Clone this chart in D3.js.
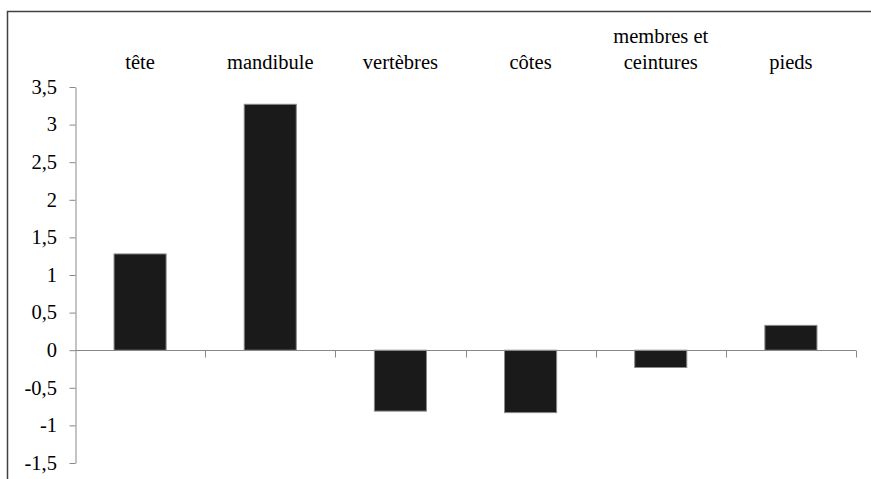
<!DOCTYPE html>
<html><head><meta charset="utf-8">
<script src="https://cdn.jsdelivr.net/npm/d3@7"></script>
<style>body{margin:0;background:#fff}svg{display:block}</style>
</head><body>
<script>
const categories = ["tête","mandibule","vertèbres","côtes","membres et\nceintures","pieds"];
const values = [1.28, 3.27, -0.81, -0.83, -0.23, 0.33];
const yTicks = [3.5,3,2.5,2,1.5,1,0.5,0,-0.5,-1,-1.5];

const W=871,H=479;
const svg=d3.select("body").append("svg").attr("width",W).attr("height",H);
const FONT='"Liberation Serif"';
const fs=20.5;

// frame
svg.append("path").attr("d","M7.5,479V11.5H871").attr("fill","none").attr("stroke","#404040").attr("stroke-width",1.5);

const x=d3.scaleBand().domain(categories).range([75,856]).paddingInner(0.6).paddingOuter(0.3);
const y=d3.scaleLinear().domain([-1.5,3.5]).range([463,87]);

// bars
svg.selectAll("rect.bar").data(values).join("rect")
  .attr("x",(d,i)=>x(categories[i]))
  .attr("width",x.bandwidth())
  .attr("y",d=>y(Math.max(0,d)))
  .attr("height",d=>Math.abs(y(d)-y(0)))
  .attr("fill","#1a1a1a").attr("stroke","#888").attr("stroke-width",1);

// y axis
const ya=svg.append("g").attr("transform","translate(75.5,0)")
  .call(d3.axisLeft(y).tickValues(yTicks).tickSize(6).tickSizeOuter(0).tickFormat(d=>String(d).replace(".",",")));
ya.select(".domain").attr("stroke","#888");
ya.selectAll(".tick line").attr("stroke","#888");
ya.selectAll(".tick text").remove();
yTicks.forEach(v=>{
  svg.append("text").attr("x",57).attr("y",y(v))
    .attr("text-anchor","end").attr("dy","0.33em")
    .style("font-family",FONT).style("font-size",fs+"px").attr("fill","#000")
    .text(String(v).replace(".",","));
});

// x axis at zero with boundary ticks
const y0=Math.round(y(0))+0.5;
svg.append("line").attr("x1",75).attr("x2",856).attr("y1",y0).attr("y2",y0).attr("stroke","#888");
const bounds=d3.range(1,categories.length+1).map(i=>75+i*(856-75)/categories.length);
svg.selectAll("line.xt").data(bounds).join("line")
  .attr("x1",d=>Math.round(d)+0.5).attr("x2",d=>Math.round(d)+0.5)
  .attr("y1",y0).attr("y2",y0+7).attr("stroke","#888");

// category labels at top
categories.forEach(c=>{
  const lines=c.split("\n");
  const cx=x(c)+x.bandwidth()/2;
  lines.forEach((t,j)=>{
    const by=69-(lines.length-1-j)*26;
    svg.append("text").attr("x",cx).attr("y",by)
      .attr("text-anchor","middle").style("font-family",FONT).style("font-size",fs+"px").attr("fill","#000").text(t);
  });
});
</script>
</body></html>
